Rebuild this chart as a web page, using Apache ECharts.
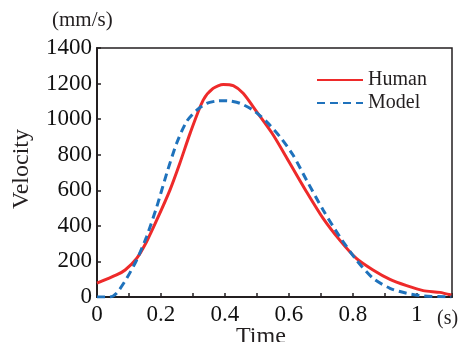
<!DOCTYPE html>
<html>
<head>
<meta charset="utf-8">
<script src="https://cdn.jsdelivr.net/npm/echarts@6/dist/echarts.min.js"></script>
<style>html,body{margin:0;padding:0;background:#fff}#c{width:459px;height:342px}</style>
</head>
<body>
<div id="c"></div>
<script>
// Human measured velocity [time (s), velocity (mm/s)]
var humanT = [0, 0.061, 0.088, 0.124, 0.155, 0.187, 0.228, 0.259, 0.291, 0.332, 0.363, 0.395, 0.426, 0.457, 0.499, 0.551, 0.603, 0.655, 0.707, 0.759, 0.811, 0.863, 0.916, 0.968, 1.02, 1.072, 1.108];
var humanV = [78, 124, 152, 217, 311, 433, 601, 752, 920, 1107, 1173, 1195, 1188, 1145, 1042, 911, 752, 592, 442, 320, 217, 152, 99, 64, 36, 26, 11];
// Model velocity
var modelT = [0, 0.04, 0.061, 0.093, 0.124, 0.155, 0.187, 0.218, 0.249, 0.28, 0.312, 0.343, 0.374, 0.395, 0.416, 0.447, 0.488, 0.53, 0.572, 0.613, 0.655, 0.707, 0.759, 0.811, 0.863, 0.916, 0.968, 1.02, 1.108];
var modelV = [0, 0, 21, 105, 208, 339, 508, 695, 864, 986, 1051, 1089, 1102, 1104, 1102, 1089, 1051, 986, 901, 798, 658, 489, 339, 208, 105, 49, 21, 6, 0];
var seriesNames = ['Human', 'Model'];
var xTickLabels = ['0', '0.2', '0.4', '0.6', '0.8', '1'];

function zip(a, b) { return a.map(function (v, i) { return [v, b[i]]; }); }

var font = '"Liberation Serif", "Times New Roman", serif';
var axisColor = '#231f20';
var chart = echarts.init(document.getElementById('c'), null, {renderer: 'canvas'});
chart.setOption({
  animation: false,
  backgroundColor: '#fff',
  grid: {left: 97, right: 7, top: 48, bottom: 45, show: true, borderColor: axisColor, borderWidth: 1.5, containLabel: false},
  legend: {
    data: seriesNames, left: 316, top: 70, orient: 'vertical', itemWidth: 46, itemHeight: 1, itemGap: 3,
    textStyle: {fontFamily: font, fontSize: 20, color: '#231f20'},
    padding: 0
  },
  xAxis: {
    type: 'value', min: 0, max: 1.11, interval: 0.1,
    axisLine: {show: true, lineStyle: {color: axisColor, width: 2}},
    axisTick: {show: true, inside: true, length: 4, lineStyle: {color: axisColor, width: 1.5}},
    splitLine: {show: false},
    axisLabel: {
      fontFamily: font, fontSize: 23, color: '#111', margin: 6,
      formatter: function (v) {
        var k = Math.round(v * 10);
        if (Math.abs(v * 10 - k) > 1e-6) return '';
        if (k % 2 !== 0) return '';
        return xTickLabels[k / 2] || '';
      }
    }
  },
  yAxis: {
    type: 'value', min: 0, max: 1400, interval: 200,
    axisLine: {show: true, lineStyle: {color: axisColor, width: 2}},
    axisTick: {show: true, inside: true, length: 4, lineStyle: {color: axisColor, width: 1.5}},
    splitLine: {show: false},
    axisLabel: {fontFamily: font, fontSize: 23, color: '#111', margin: 5, formatter: function (v) { return String(v); }}
  },
  graphic: [
    {type: 'text', left: 52, top: 10, style: {text: '(mm/s)', font: '21px "Liberation Serif"', fill: '#231f20'}},
    {type: 'text', left: 437, top: 309, style: {text: '(s)', font: '20px "Liberation Serif"', fill: '#231f20'}},
    {type: 'text', left: 236, top: 325, style: {text: 'Time', font: '24px "Liberation Serif"', fill: '#231f20'}},
    {type: 'text', x: 22, y: 169, rotation: Math.PI / 2, style: {text: 'Velocity', font: '24px "Liberation Serif"', fill: '#231f20', align: 'center', verticalAlign: 'middle'}}
  ],
  series: [
    {name: seriesNames[0], type: 'line', data: zip(humanT, humanV), symbol: 'none', smooth: 0.25,
      lineStyle: {color: '#ee2a2a', width: 3}, itemStyle: {color: '#ee2a2a'}, z: 3},
    {name: seriesNames[1], type: 'line', data: zip(modelT, modelV), symbol: 'none', smooth: 0.25,
      lineStyle: {color: '#1f72bc', width: 3, type: [8, 5]}, itemStyle: {color: '#1f72bc'}, z: 4}
  ]
});
</script>
</body>
</html>
